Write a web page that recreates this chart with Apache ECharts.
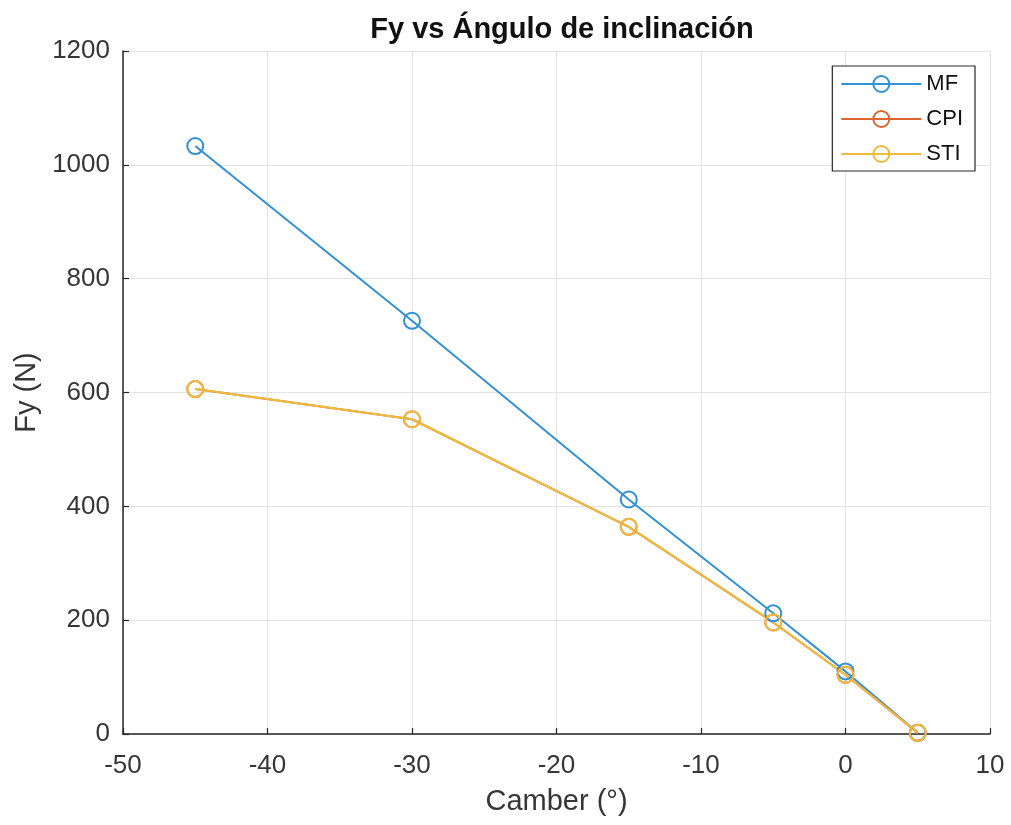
<!DOCTYPE html>
<html>
<head>
<meta charset="utf-8">
<script src="https://cdn.jsdelivr.net/npm/echarts@6/dist/echarts.min.js"></script>
<style>
  html, body { margin: 0; padding: 0; background: #fff; }
  #chart { width: 1011px; height: 825px; }
</style>
</head>
<body>
<div id="chart"></div>
<script>
// camber angles (°)
const camber = [-45, -30, -15, -5, 0, 5]
// Fy (N) per model
const fyMF  = [1033, 726, 412, 212, 110, 2]
const fyCPI = [606, 553, 364, 196, 104, 2]
const fySTI = [606, 553, 364, 196, 104, 2]

const seriesNames  = ['MF', 'CPI', 'STI']
const seriesValues = [fyMF, fyCPI, fySTI]
const seriesColors = ['#3290D4', '#DE6430', '#EEBB3C']

const font = '"Liberation Sans", Arial, sans-serif'
const ink  = '#262626'
const txt  = '#363636'

const chart = echarts.init(document.getElementById('chart'))
chart.setOption({
  animation: false,
  title: {
    text: 'Fy vs Ángulo de inclinación',
    left: 557, top: 10, textAlign: 'center',
    textStyle: { fontFamily: font, fontSize: 29, fontWeight: 'bold', color: '#111' },
  },
  legend: {
    orient: 'vertical',
    right: 36, top: 66,
    data: seriesNames,
    itemWidth: 80, itemHeight: 20, itemGap: 13,
    padding: [7, 12, 6, 8],
    borderColor: ink, borderWidth: 1.2,
    backgroundColor: '#fff',
    textStyle: { fontFamily: font, fontSize: 22, color: '#111' },
  },
  grid: { left: 123, right: 21, top: 51, bottom: 91 },
  xAxis: {
    type: 'value', min: -50, max: 10, interval: 10,
    name: 'Camber (°)', nameLocation: 'middle', nameGap: 53,
    nameTextStyle: { fontFamily: font, fontSize: 29, color: txt },
    axisLine: { onZero: false, lineStyle: { color: ink, width: 1.5 } },
    axisTick: { inside: true, length: 6, lineStyle: { color: ink, width: 1.2 } },
    axisLabel: { fontFamily: font, fontSize: 26, color: txt, margin: 19 },
    splitLine: { show: true, lineStyle: { color: '#e3e3e3', width: 1 } },
  },
  yAxis: {
    type: 'value', min: 0, max: 1200, interval: 200,
    name: 'Fy (N)', nameLocation: 'middle', nameGap: 76,
    nameTextStyle: { fontFamily: font, fontSize: 29, color: txt },
    axisLine: { show: true, onZero: false, lineStyle: { color: ink, width: 1.5 } },
    axisTick: { show: true, inside: true, length: 6, lineStyle: { color: ink, width: 1.2 } },
    axisLabel: {
      fontFamily: font, fontSize: 26, color: txt, margin: 13,
      formatter: v => String(v),
    },
    splitLine: { show: true, lineStyle: { color: '#e3e3e3', width: 1 } },
  },
  series: seriesNames.map((name, i) => ({
    name,
    type: 'line',
    data: camber.map((x, j) => [x, seriesValues[i][j]]),
    symbol: 'circle',
    symbolSize: 16,
    color: seriesColors[i],
    lineStyle: { width: 2, color: seriesColors[i] },
    itemStyle: { color: 'rgba(255,255,255,0)', borderColor: seriesColors[i], borderWidth: 2 },
  })),
})
</script>
</body>
</html>
